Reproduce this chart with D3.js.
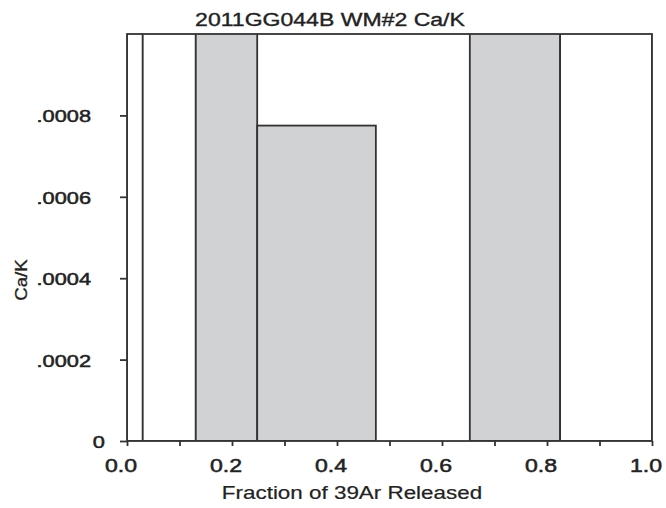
<!DOCTYPE html>
<html>
<head>
<meta charset="utf-8">
<script src="https://cdn.jsdelivr.net/npm/d3@7"></script>
<style>
  body { margin: 0; background: #fff; }
  text { font-family: "Liberation Sans", Arial, sans-serif; fill: #222; }
</style>
</head>
<body>
<svg width="666" height="508"></svg>
<script>
// step boundaries (cumulative fraction of 39Ar) and Ca/K of each step
const stepEdges = [0, 0.030, 0.131, 0.248, 0.474, 0.653, 0.825, 1.0];
const caK = [0.0016, 0.0012, 0.0015, 0.000775, 0, 0.0013, 0.0011];
const inPlateau = [false, false, true, true, false, true, false];

const xTicks = [0, 0.1, 0.2, 0.3, 0.4, 0.5, 0.6, 0.7, 0.8, 0.9, 1.0];
const xLabels = [0, 0.2, 0.4, 0.6, 0.8, 1.0];
const yTicks = [0, 0.0002, 0.0004, 0.0006, 0.0008];

const plotLeft = 127, plotRight = 652, plotTop = 34, plotBottom = 441;
const stretch = 1.28;

const svg = d3.select('svg');

const x = d3.scaleLinear().domain([0, 1]).range([plotLeft, plotRight]);
const y = d3.scaleLinear().domain([0, 0.001]).range([plotBottom, plotTop]);

const steps = caK.map((v, i) => ({ x0: stepEdges[i], x1: stepEdges[i + 1], v: v, plateau: inPlateau[i] }));

svg.append('clipPath').attr('id', 'plot')
  .append('rect')
  .attr('x', plotLeft).attr('y', plotTop)
  .attr('width', plotRight - plotLeft).attr('height', plotBottom - plotTop);

svg.append('g')
  .attr('clip-path', 'url(#plot)')
  .selectAll('.step')
  .data(steps)
  .enter()
  .append('rect')
  .classed('step', true)
  .attr('x', d => x(d.x0))
  .attr('width', d => x(d.x1) - x(d.x0))
  .attr('y', d => y(d.v))
  .attr('height', d => y(0) - y(d.v))
  .attr('fill', d => d.plateau ? '#d1d2d4' : '#fff')
  .attr('stroke', '#333')
  .attr('stroke-width', 1.8);

// frame
svg.append('rect')
  .attr('x', plotLeft).attr('y', plotTop)
  .attr('width', plotRight - plotLeft).attr('height', plotBottom - plotTop)
  .attr('fill', 'none')
  .attr('stroke', '#333')
  .attr('stroke-width', 1.8);

// x axis
const xAxis = svg.append('g')
  .attr('transform', `translate(0,${plotBottom})`)
  .call(d3.axisBottom(x).tickValues(xTicks).tickSize(5).tickFormat(''));
xAxis.select('.domain').remove();
xAxis.selectAll('line').attr('stroke', '#333').attr('stroke-width', 1.8);

svg.append('g')
  .selectAll('.xlab')
  .data(xLabels)
  .enter()
  .append('text')
  .classed('xlab', true)
  .attr('x', d => x(d) - 6)
  .attr('y', 471.5)
  .attr('text-anchor', 'middle')
  .attr('font-size', 18)
  .attr('stroke', '#222').attr('stroke-width', 0.5)
  .text(d3.format('.1f'));

// y axis
const yAxis = svg.append('g')
  .attr('transform', `translate(${plotLeft},0)`)
  .call(d3.axisLeft(y).tickValues(yTicks).tickSize(7).tickFormat(''));
yAxis.select('.domain').remove();
yAxis.selectAll('line').attr('stroke', '#333').attr('stroke-width', 1.8);

svg.append('g')
  .selectAll('.ylab')
  .data(yTicks)
  .enter()
  .append('text')
  .classed('ylab', true)
  .attr('x', d => d === 0 ? plotLeft - 22 : plotLeft - 36)
  .attr('y', d => y(d) + 7)
  .attr('text-anchor', 'end')
  .attr('font-size', 17)
  .attr('stroke', '#222').attr('stroke-width', 0.5)
  .text(d => d === 0 ? '0' : d3.format('.4f')(d).replace(/^0/, ''));

// titles
svg.append('text')
  .attr('x', 330).attr('y', 26)
  .attr('text-anchor', 'middle')
  .attr('font-size', 18)
  .attr('stroke', '#222').attr('stroke-width', 0.35)
  .text('2011GG044B WM#2 Ca/K');

svg.append('text')
  .attr('x', 352).attr('y', 499)
  .attr('text-anchor', 'middle')
  .attr('font-size', 17.5)
  .attr('stroke', '#222').attr('stroke-width', 0.2)
  .text('Fraction of 39Ar Released');

svg.append('text')
  .attr('transform', 'translate(27,280) rotate(-90)')
  .attr('text-anchor', 'middle')
  .attr('font-size', 17)
  .attr('stroke', '#222').attr('stroke-width', 0.3)
  .text('Ca/K');

// the reference is horizontally stretched; widen glyphs to match
svg.selectAll('text').each(function () {
  const t = d3.select(this);
  const isY = t.attr('transform') && t.attr('transform').includes('rotate');
  const k = isY ? 1.1 : stretch;
  t.attr('textLength', this.getComputedTextLength() * k)
    .attr('lengthAdjust', 'spacingAndGlyphs');
});
</script>
</body>
</html>
